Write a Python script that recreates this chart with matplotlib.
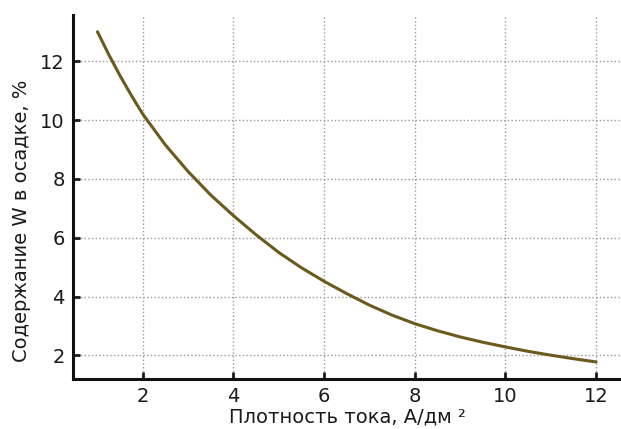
import matplotlib
matplotlib.use("Agg")
import matplotlib.pyplot as plt

# values
current_density = [1, 1.25, 1.5, 1.75, 2, 2.5, 3, 3.5, 4, 4.5, 5, 5.5, 6, 6.5,
                   7, 7.5, 8, 8.5, 9, 9.5, 10, 10.5, 11, 11.5, 12]
w_content = [13.0, 12.22, 11.5, 10.83, 10.2, 9.15, 8.25, 7.45, 6.75, 6.1, 5.5, 4.98,
             4.52, 4.1, 3.71, 3.37, 3.08, 2.84, 2.63, 2.45, 2.29, 2.14, 2.01, 1.89, 1.78]
x_ticks = [2, 4, 6, 8, 10, 12]
y_ticks = [2, 4, 6, 8, 10, 12]

plt.rcParams['font.family'] = ['DejaVu Sans']

fig = plt.figure(figsize=(6.21, 4.29), dpi=100)
ax = fig.add_axes([73 / 621, 1 - 379 / 429, 548 / 621, 364 / 429])

ax.plot(current_density, w_content, color='#6b5a1e', linewidth=2.2,
        solid_capstyle='round', solid_joinstyle='round')

ax.set_xlim(0.46, 12.55)
ax.set_ylim(1.2, 13.57)
ax.set_xticks(x_ticks)
ax.set_yticks(y_ticks)

ax.grid(True, linestyle=':', color='#999999', linewidth=1.0)
ax.set_axisbelow(True)

for side in ['top', 'right']:
    ax.spines[side].set_visible(False)
for side in ['left', 'bottom']:
    ax.spines[side].set_linewidth(2.2)
    ax.spines[side].set_color('#111111')

ax.tick_params(direction='in', length=5, width=2, labelsize=14,
               colors='#1a1a1a', pad=6)

ax.set_xlabel('Плотность тока, А/дм ²', fontsize=14, color='#1a1a1a', labelpad=1)
ax.set_ylabel('Содержание W в осадке, %', fontsize=14, color='#1a1a1a')
ax.yaxis.set_label_coords(-0.077, 0.434)

fig.savefig('out.png', dpi=100)
